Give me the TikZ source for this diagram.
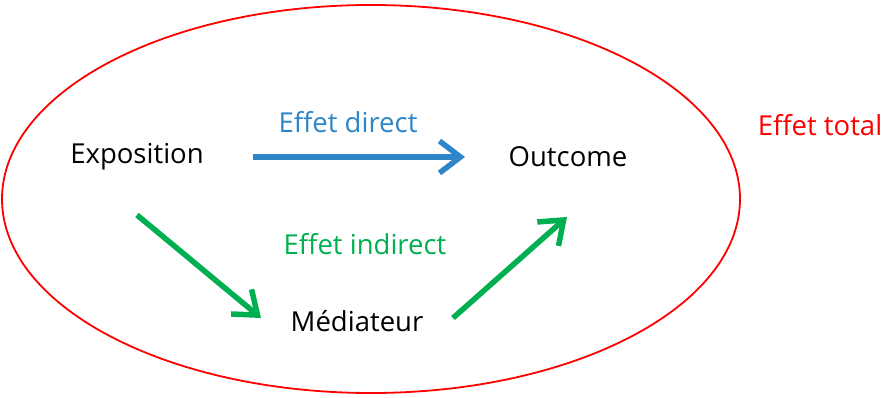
\documentclass[tikz,border=0pt]{standalone}
\usepackage{fontspec}
\setmainfont{Open Sans}
\usetikzlibrary{arrows.meta}
\definecolor{cblue}{RGB}{46,134,200}
\definecolor{cgreen}{RGB}{0,176,80}
\definecolor{cred}{RGB}{255,0,0}
\begin{document}
\begin{tikzpicture}[x=1pt,y=-1pt,
  lbl/.style={font=\fontsize{27.5}{32}\selectfont, inner sep=0pt},
  arr/.style={line width=5.5pt, -{Straight Barb[length=21pt,width=32pt,line width=5.5pt]}}]
\useasboundingbox (0,0) rectangle (885,398);
\draw[cred, line width=1.8pt] (371,199) ellipse [x radius=369, y radius=194];
\node[lbl] (expo) at (137,157) {Exposition};
\node[lbl] (out) at (568,157) {Outcome};
\node[lbl] (med) at (357,321) {Médiateur};
\node[lbl, text=cblue] (dir) at (348,122) {Effet direct};
\node[lbl, text=cgreen] (ind) at (365,244) {Effet indirect};
\node[lbl, text=cred] (tot) at (820,125) {Effet total};
\coordinate (b1) at (253,157);
\coordinate (b2) at (465,157);
\coordinate (g1) at (137,215);
\coordinate (g2) at (261,318);
\coordinate (g3) at (453,318);
\coordinate (g4) at (567,217);
\draw[arr, cblue] (b1) -- (b2);
\draw[arr, cgreen] (g1) -- (g2);
\draw[arr, cgreen] (g3) -- (g4);
\end{tikzpicture}
\end{document}
